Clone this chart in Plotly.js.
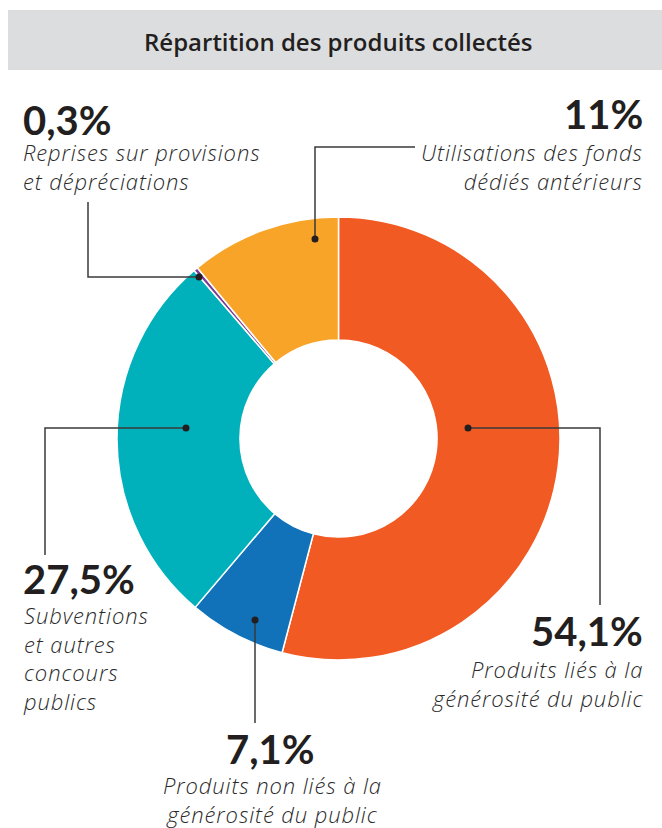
<!DOCTYPE html>
<html>
<head>
<meta charset="utf-8">
<script src="https://cdn.plot.ly/plotly-3.0.1.min.js"></script>
<style>
html,body{margin:0;padding:0;background:#fff;}
#chart{width:662px;height:828px;}
text.annotation-text[style*="font-size: 22px"]{letter-spacing:0.9px;}
</style>
</head>
<body>
<div id="chart"></div>
<script>
// ---- data ----
const categories = [
  "Produits liés à la générosité du public",
  "Produits non liés à la générosité du public",
  "Subventions et autres concours publics",
  "Reprises sur provisions et dépréciations",
  "Utilisations des fonds dédiés antérieurs"
];
const values = [54.1, 7.1, 27.5, 0.3, 11];
const valueLabels = ["54,1%", "7,1%", "27,5%", "0,3%", "11%"];
const descLabels = [
  "Produits liés à la<br>générosité du public",
  "Produits non liés à la<br>générosité du public",
  "Subventions<br>et autres<br>concours<br>publics",
  "Reprises sur provisions<br>et dépréciations",
  "Utilisations des fonds<br>dédiés antérieurs"
];
const colors = ["#f15a22", "#1172b9", "#00b1bb", "#7b3c96", "#f7a429"];
const chartTitle = "Répartition des produits collectés";

// ---- layout helpers ----
const W = 662, H = 828;
const px = x => x / W;
const py = y => 1 - y / H;

// label placement (pixels): number centre, description centre, alignment
const labelPos = [
  {nx: 645, ny: 631, dx: 645, dy: 683, anchor: "right"},
  {nx: 270, ny: 749, dx: 272, dy: 799, anchor: "center"},
  {nx: 21,  ny: 579, dx: 21,  dy: 658, anchor: "left"},
  {nx: 21,  ny: 120, dx: 21,  dy: 166, anchor: "left"},
  {nx: 645, ny: 114, dx: 645, dy: 166, anchor: "right"}
];
// leader polylines (pixels), first point = dot
const leaders = [
  [[468, 428], [600, 428], [600, 605]],
  [[255, 620], [255, 723]],
  [[186, 428], [45, 428], [45, 555]],
  [[199, 277], [88, 277], [88, 202]],
  [[315, 239], [315, 147], [415, 147]]
];

const shapes = [{
  type: "rect", xref: "paper", yref: "paper",
  x0: px(8), x1: px(662), y0: py(70), y1: py(10),
  fillcolor: "#dcdddf", line: {width: 0}, layer: "below"
}];
leaders.forEach(pts => {
  let path = "M" + pts.map(p => px(p[0]) + "," + py(p[1])).join(" L");
  shapes.push({type: "path", xref: "paper", yref: "paper", path: path,
    line: {color: "#3a3a3a", width: 1.5}});
  const d = pts[0];
  shapes.push({type: "circle", xref: "paper", yref: "paper",
    x0: px(d[0] - 3.5), x1: px(d[0] + 3.5), y0: py(d[1] + 3.5), y1: py(d[1] - 3.5),
    fillcolor: "#231f20", line: {width: 0}});
});

const annotations = [{
  text: chartTitle, xref: "paper", yref: "paper", x: px(338), y: py(41),
  xanchor: "center", yanchor: "middle", showarrow: false,
  font: {family: "'Open Sans', Lato, sans-serif", size: 24, weight: 600, color: "#231f20"}
}];
labelPos.forEach((p, i) => {
  annotations.push({
    text: "<b>" + valueLabels[i] + "</b>", xref: "paper", yref: "paper",
    x: px(p.nx), y: py(p.ny), xanchor: p.anchor, yanchor: "middle", showarrow: false,
    font: {family: "Lato, sans-serif", size: 40, color: "#231f20"}
  });
  annotations.push({
    text: "<i>" + descLabels[i] + "</i>", xref: "paper", yref: "paper",
    x: px(p.dx), y: py(p.dy), xanchor: p.anchor, yanchor: "middle", align: p.anchor,
    showarrow: false,
    font: {family: "'Open Sans', sans-serif", size: 22, weight: 300, color: "#2a2a2a"}
  });
});

const trace = {
  type: "pie", labels: categories, values: values, sort: false,
  direction: "clockwise", rotation: 0, hole: 0.445,
  marker: {colors: colors, line: {color: "#ffffff", width: 1.5}},
  textinfo: "none", hoverinfo: "label+percent", showlegend: false,
  domain: {x: [px(117), px(560)], y: [py(660), py(217)]}
};

Plotly.newPlot("chart", [trace], {
  width: W, height: H, margin: {l: 0, r: 0, t: 0, b: 0},
  paper_bgcolor: "#ffffff", showlegend: false,
  shapes: shapes, annotations: annotations
}, {displayModeBar: false, staticPlot: true});
</script>
</body>
</html>
